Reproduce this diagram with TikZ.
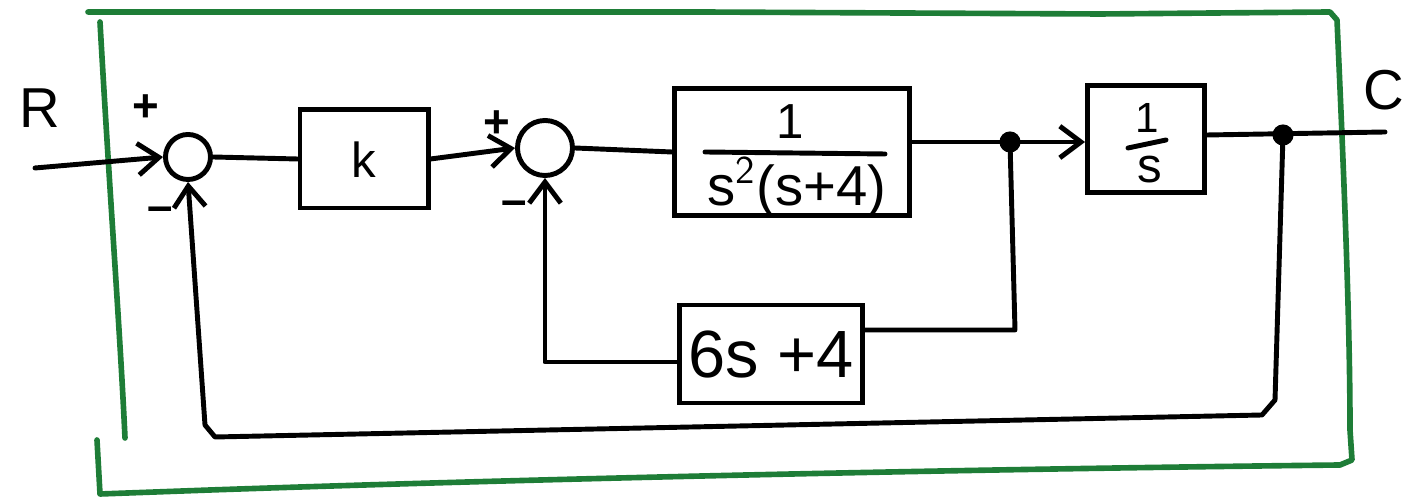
\documentclass[tikz,border=0pt]{standalone}
\usepackage{fontspec}
\setmainfont{Liberation Sans}
\usetikzlibrary{arrows.meta,calc}
\definecolor{boxgreen}{RGB}{30,125,55}
\tikzset{
  wire/.style={line width=1.4pt, line cap=round, line join=round},
  arr/.style={wire, -{Straight Barb[length=6pt,width=9pt,line width=1.4pt]}},
  blockbox/.style={draw, line width=1.4pt, rectangle, inner sep=0pt},
  sumnode/.style={draw, line width=1.4pt, circle, inner sep=0pt},
  lbl/.style={font=\fontsize{13}{15}\selectfont, inner sep=0pt},
  sgn/.style={font=\bfseries\fontsize{13}{15}\selectfont, inner sep=0pt}
}
\begin{document}
\begin{tikzpicture}[x=0.01cm,y=-0.01cm]
\useasboundingbox (0,0) rectangle (1406,498);
% green frame
\draw[boxgreen, line width=1.6pt, line cap=round, line join=round]
  (100,22) .. controls (110,200) and (120,330) .. (125,438);
\draw[boxgreen, line width=1.6pt, line cap=round, line join=round]
  (88,12) -- (700,12) -- (1100,14) -- (1330,12) -- (1337,20)
  .. controls (1345,200) and (1350,330) .. (1350,430) -- (1352,460)
  -- (1340,465) .. controls (900,470) and (500,480) .. (210,490) -- (100,494)
  -- (97,440);
% nodes
\node[sumnode, minimum size=0.45cm] (s1) at (188,157) {};
\node[blockbox, minimum width=1.28cm, minimum height=0.98cm] (K) at (364,159) {};
\node[lbl, font=\fontsize{14}{16}\selectfont] at (364,160) {k};
\node[sumnode, minimum size=0.55cm] (s2) at (545,148) {};
\node[blockbox, minimum width=2.35cm, minimum height=1.27cm] (G) at (792,152) {};
\node[lbl, font=\fontsize{14}{16}\selectfont] (Gn) at (790,122) {1};
\draw[wire] (705,152) -- (885,154);
\node[lbl, font=\fontsize{16}{18}\selectfont] (Gd) at (797,187) {s$^{\mathsf{2}}$(s+4)};
\node[blockbox, minimum width=1.82cm, minimum height=0.98cm] (H) at (771,354) {};
\node[lbl, font=\fontsize{19}{21}\selectfont] at (771,355) {6s +4};
\node[blockbox, minimum width=1.17cm, minimum height=1.07cm] (I) at (1146,139) {};
\node[lbl, font=\fontsize{12}{14}\selectfont] at (1147,118) {1};
\draw[wire] (1128,148) -- (1166,140);
\node[lbl, font=\fontsize{14}{16}\selectfont] at (1150,170) {s};
% labels
\node[lbl, font=\fontsize{16}{18}\selectfont] (R) at (40,108) {R};
\node[lbl, font=\fontsize{16}{18}\selectfont] (C) at (1384,90) {C};
\node[sgn] (p1) at (146,108) {+};
\node[sgn] (m1) at (160,214) {–};
\node[sgn] (p2) at (497,124) {+};
\node[sgn] (m2) at (514,208) {–};
% coordinates
\coordinate (in) at (35,168);
\coordinate (j1) at (1010,142);
\coordinate (j2) at (1283,135);
\coordinate (out) at (1385,132);
% connectors
\draw[arr] (in) -- (s1.west);
\draw[wire] (s1.east) -- (K.west);
\draw[arr] (K.east) -- (s2.west);
\draw[wire] (s2.east) -- (G.west);
\draw[wire] (G.east |- j1) -- (j1);
\draw[arr] (j1) -- (I.west |- j1);
\fill (j1) circle (3pt);
\draw[wire] (j1) -- (1015,330) -- (H.east |- 0,330);
\draw[arr] (H.west |- 0,362) -| (s2.south);
\draw[wire] (I.east |- j2) -- (out);
\fill (j2) circle (3pt);
\draw[arr] (j2) -- (1275,400) -- (1262,415) -- (215,437) -- (205,425) -- (s1.south);
\end{tikzpicture}
\end{document}
